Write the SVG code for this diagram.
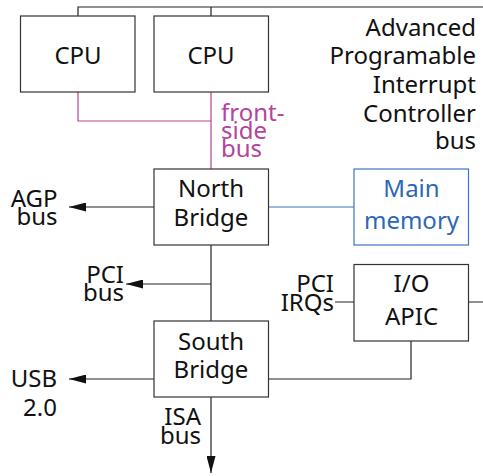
<svg xmlns="http://www.w3.org/2000/svg" width="483" height="476" viewBox="0 0 483 476">
<defs>
<style>
.box{fill:#fff;stroke:#333;stroke-width:1.2}
.mem{fill:#fff;stroke:#3f74c0;stroke-width:1.2}
text{font-family:"Noto Sans","DejaVu Sans",sans-serif;font-size:24px;fill:#111}
.c{text-anchor:middle}
.e{text-anchor:end}
.ln{fill:none;stroke:#222;stroke-width:1.2}
.fsb{fill:none;stroke:#b4449c;stroke-width:1.2}
.bl{fill:none;stroke:#3f74c0;stroke-width:1.2}
</style>
<marker id="ah" viewBox="0 0 17 9" refX="17" refY="4.5" markerWidth="17" markerHeight="9" markerUnits="userSpaceOnUse" orient="auto">
<path d="M0,0 L17,4.5 L0,9 Z" fill="#111"/>
</marker>
</defs>
<rect width="483" height="476" fill="#fff"/>
<g id="connectors">
<path class="ln" d="M78,16 V7 H483 M211,7 V16"/>
<path class="fsb" d="M78,92 V121 H211 M211,92 V169"/>
<path class="bl" d="M268,207 H354"/>
<path class="ln" d="M154,207 H69" marker-end="url(#ah)"/>
<path class="ln" d="M211,245 V321"/>
<path class="ln" d="M211,284 H126" marker-end="url(#ah)"/>
<path class="ln" d="M335,302 H354 M469,302 H483"/>
<path class="ln" d="M154,379 H69" marker-end="url(#ah)"/>
<path class="ln" d="M268,379 H411 V341"/>
<path class="ln" d="M211,397 V473" marker-end="url(#ah)"/>
</g>
<g id="cpu1"><rect class="box" x="20.5" y="16" width="114.5" height="76"/><text class="c" x="78" y="64">CPU</text></g>
<g id="cpu2"><rect class="box" x="154" y="16" width="114.5" height="76"/><text class="c" x="211" y="64">CPU</text></g>
<g id="apic-bus-label"><text class="e" x="476"><tspan x="476" y="36">Advanced</tspan><tspan x="476" y="64">Programable</tspan><tspan x="476" y="92.5">Interrupt</tspan><tspan x="476" y="121.5">Controller</tspan><tspan x="476" y="149">bus</tspan></text></g>
<g id="fsb-label"><text x="221" style="fill:#b4449c"><tspan x="221" y="121">front-</tspan><tspan x="221" y="139">side</tspan><tspan x="221" y="157">bus</tspan></text></g>
<g id="north-bridge"><rect class="box" x="154" y="169" width="114.5" height="76"/><text class="c"><tspan x="211" y="197">North</tspan><tspan x="211" y="225.7">Bridge</tspan></text></g>
<g id="main-memory"><rect class="mem" x="354" y="169" width="114.5" height="76"/><text class="c" style="fill:#2d67b5"><tspan x="411.5" y="197.3">Main</tspan><tspan x="411.5" y="228.5">memory</tspan></text></g>
<g id="agp-label"><text class="e"><tspan x="57.5" y="206.7">AGP</tspan><tspan x="57.5" y="225">bus</tspan></text></g>
<g id="pci-label"><text class="e"><tspan x="124" y="282.7">PCI</tspan><tspan x="124" y="301">bus</tspan></text></g>
<g id="io-apic"><rect class="box" x="354" y="264.5" width="114.5" height="76.5"/><text class="c"><tspan x="411.5" y="292">I/O</tspan><tspan x="411.5" y="325">APIC</tspan></text></g>
<g id="pci-irq-label"><text class="e"><tspan x="334" y="292.3">PCI</tspan><tspan x="334" y="310.7">IRQs</tspan></text></g>
<g id="south-bridge"><rect class="box" x="154" y="321" width="114.5" height="76"/><text class="c"><tspan x="211" y="350">South</tspan><tspan x="211" y="378">Bridge</tspan></text></g>
<g id="usb-label"><text class="e"><tspan x="57" y="386.7">USB</tspan><tspan x="57" y="415.7">2.0</tspan></text></g>
<g id="isa-label"><text class="e"><tspan x="201" y="425">ISA</tspan><tspan x="201" y="444">bus</tspan></text></g>
</svg>
